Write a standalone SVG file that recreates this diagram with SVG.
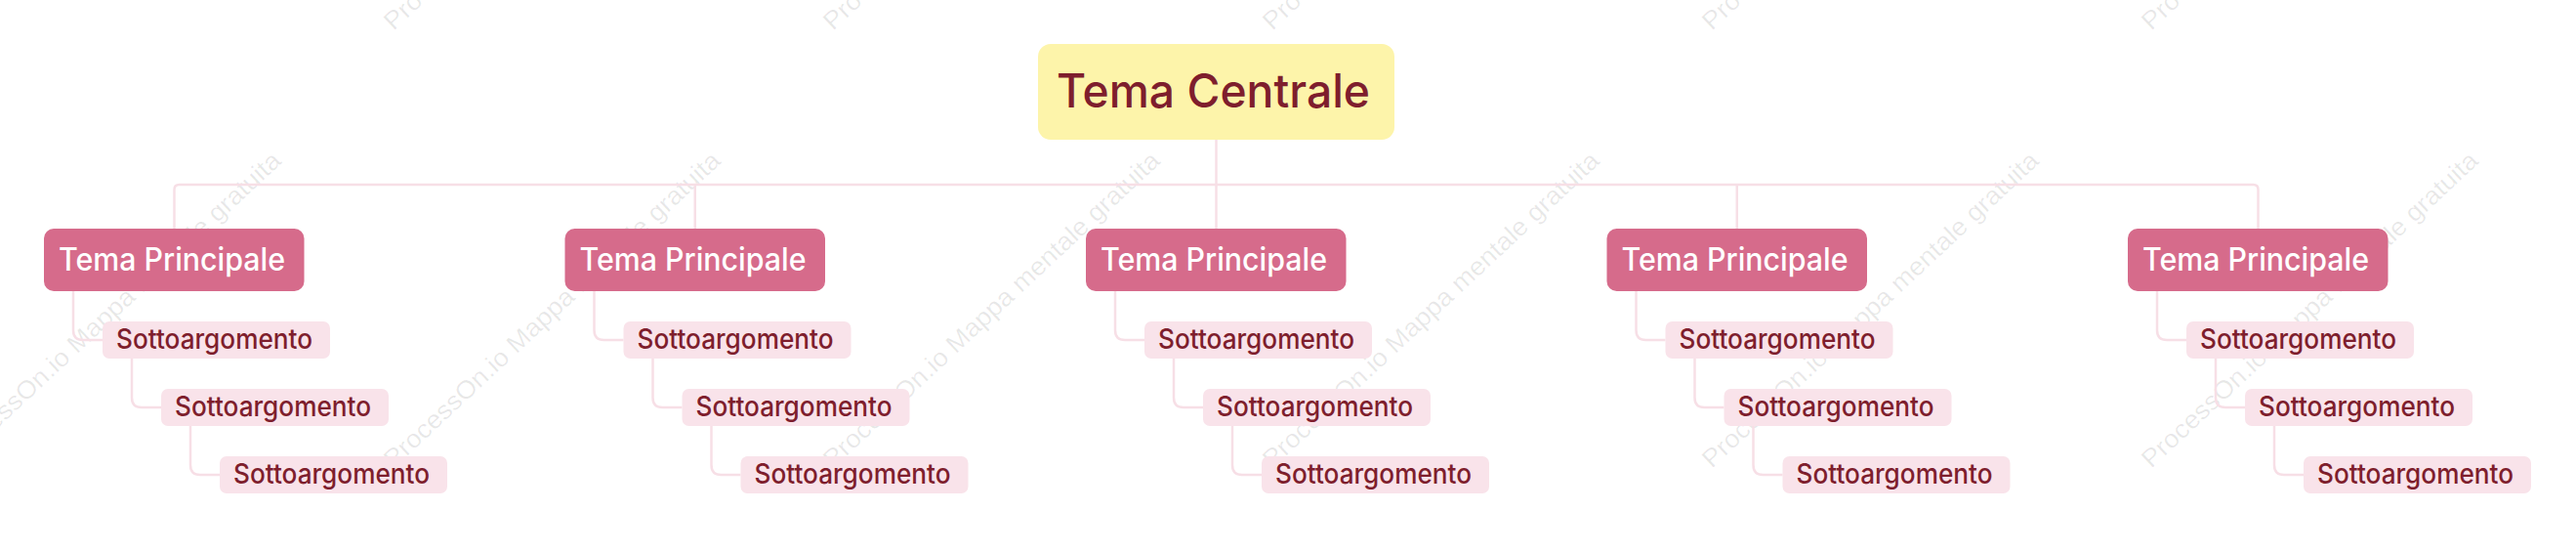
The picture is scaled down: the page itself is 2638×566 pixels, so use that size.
<svg xmlns="http://www.w3.org/2000/svg" width="2638" height="566" viewBox="0 0 2638 566">
<style>
.wm{font-family:"Liberation Sans",Arial,sans-serif;font-size:26px;fill:#000;fill-opacity:0.09}
.conn{fill:none;stroke:#f7dfe6;stroke-width:2.5}
.root rect{fill:#fdf4aa}
.root text{font-family:Inter,"Liberation Sans",sans-serif;font-weight:500;font-size:48px;fill:#7e1e2d}
.main rect{fill:#d66b8b}
.main text{font-family:Inter,"Liberation Sans",sans-serif;font-weight:500;font-size:32px;fill:#ffffff}
.sub rect{fill:#f9e3ea}
.sub text{font-family:Inter,"Liberation Sans",sans-serif;font-weight:500;font-size:28px;fill:#7e1e2d}
</style>
<rect width="2638" height="566" fill="#ffffff"/>
<g id="watermarks">
<text class="wm" transform="translate(-47,480) rotate(-43)" textLength="460" lengthAdjust="spacingAndGlyphs">ProcessOn.io Mappa mentale gratuita</text>
<text class="wm" transform="translate(403,480) rotate(-43)" textLength="460" lengthAdjust="spacingAndGlyphs">ProcessOn.io Mappa mentale gratuita</text>
<text class="wm" transform="translate(853,480) rotate(-43)" textLength="460" lengthAdjust="spacingAndGlyphs">ProcessOn.io Mappa mentale gratuita</text>
<text class="wm" transform="translate(1303,480) rotate(-43)" textLength="460" lengthAdjust="spacingAndGlyphs">ProcessOn.io Mappa mentale gratuita</text>
<text class="wm" transform="translate(1753,480) rotate(-43)" textLength="460" lengthAdjust="spacingAndGlyphs">ProcessOn.io Mappa mentale gratuita</text>
<text class="wm" transform="translate(2203,480) rotate(-43)" textLength="460" lengthAdjust="spacingAndGlyphs">ProcessOn.io Mappa mentale gratuita</text>
<text class="wm" transform="translate(403,32) rotate(-43)" textLength="460" lengthAdjust="spacingAndGlyphs">ProcessOn.io Mappa mentale gratuita</text>
<text class="wm" transform="translate(853,32) rotate(-43)" textLength="460" lengthAdjust="spacingAndGlyphs">ProcessOn.io Mappa mentale gratuita</text>
<text class="wm" transform="translate(1303,32) rotate(-43)" textLength="460" lengthAdjust="spacingAndGlyphs">ProcessOn.io Mappa mentale gratuita</text>
<text class="wm" transform="translate(1753,32) rotate(-43)" textLength="460" lengthAdjust="spacingAndGlyphs">ProcessOn.io Mappa mentale gratuita</text>
<text class="wm" transform="translate(2203,32) rotate(-43)" textLength="460" lengthAdjust="spacingAndGlyphs">ProcessOn.io Mappa mentale gratuita</text>
</g>
<g id="connectors">
<path class="conn" d="M1245.5 143 V234"/>
<path class="conn" d="M178.5 234 V194 Q178.5 189 183.5 189 H2307.5 Q2312.5 189 2312.5 194 V234"/>
<path class="conn" d="M711.75 189 V234"/>
<path class="conn" d="M1778.75 189 V234"/>
<g id="c1">
<path class="conn" d="M75 298 V338 Q75 348 85 348 H105"/>
<path class="conn" d="M135 367 V407 Q135 417 145 417 H165"/>
<path class="conn" d="M195 436 V476 Q195 486 205 486 H225"/>
</g>
<g id="c2" transform="translate(533.5,0)">
<path class="conn" d="M75 298 V338 Q75 348 85 348 H105"/>
<path class="conn" d="M135 367 V407 Q135 417 145 417 H165"/>
<path class="conn" d="M195 436 V476 Q195 486 205 486 H225"/>
</g>
<g id="c3" transform="translate(1067,0)">
<path class="conn" d="M75 298 V338 Q75 348 85 348 H105"/>
<path class="conn" d="M135 367 V407 Q135 417 145 417 H165"/>
<path class="conn" d="M195 436 V476 Q195 486 205 486 H225"/>
</g>
<g id="c4" transform="translate(1600.5,0)">
<path class="conn" d="M75 298 V338 Q75 348 85 348 H105"/>
<path class="conn" d="M135 367 V407 Q135 417 145 417 H165"/>
<path class="conn" d="M195 436 V476 Q195 486 205 486 H225"/>
</g>
<g id="c5" transform="translate(2134,0)">
<path class="conn" d="M75 298 V338 Q75 348 85 348 H105"/>
<path class="conn" d="M135 367 V407 Q135 417 145 417 H165"/>
<path class="conn" d="M195 436 V476 Q195 486 205 486 H225"/>
</g>
</g>
<g id="root" class="root">
<rect x="1063" y="45" width="365" height="98" rx="13"/>
<text x="1082" y="110" textLength="321" lengthAdjust="spacingAndGlyphs">Tema Centrale</text>
</g>
<g id="main1" class="main" transform="translate(45,0)"><rect x="0" y="234" width="266.5" height="64" rx="10"/><text x="15" y="277" textLength="232" lengthAdjust="spacingAndGlyphs">Tema Principale</text></g>
<g id="sub1a" class="sub" transform="translate(45,0)"><rect x="60" y="329" width="233" height="38" rx="7"/><text x="74" y="356.7" textLength="201" lengthAdjust="spacingAndGlyphs">Sottoargomento</text></g>
<g id="sub1b" class="sub" transform="translate(45,0)"><rect x="120" y="398" width="233" height="38" rx="7"/><text x="134" y="425.7" textLength="201" lengthAdjust="spacingAndGlyphs">Sottoargomento</text></g>
<g id="sub1c" class="sub" transform="translate(45,0)"><rect x="180" y="467" width="233" height="38" rx="7"/><text x="194" y="494.5" textLength="201" lengthAdjust="spacingAndGlyphs">Sottoargomento</text></g>
<g id="main2" class="main" transform="translate(578.5,0)"><rect x="0" y="234" width="266.5" height="64" rx="10"/><text x="15" y="277" textLength="232" lengthAdjust="spacingAndGlyphs">Tema Principale</text></g>
<g id="sub2a" class="sub" transform="translate(578.5,0)"><rect x="60" y="329" width="233" height="38" rx="7"/><text x="74" y="356.7" textLength="201" lengthAdjust="spacingAndGlyphs">Sottoargomento</text></g>
<g id="sub2b" class="sub" transform="translate(578.5,0)"><rect x="120" y="398" width="233" height="38" rx="7"/><text x="134" y="425.7" textLength="201" lengthAdjust="spacingAndGlyphs">Sottoargomento</text></g>
<g id="sub2c" class="sub" transform="translate(578.5,0)"><rect x="180" y="467" width="233" height="38" rx="7"/><text x="194" y="494.5" textLength="201" lengthAdjust="spacingAndGlyphs">Sottoargomento</text></g>
<g id="main3" class="main" transform="translate(1112,0)"><rect x="0" y="234" width="266.5" height="64" rx="10"/><text x="15" y="277" textLength="232" lengthAdjust="spacingAndGlyphs">Tema Principale</text></g>
<g id="sub3a" class="sub" transform="translate(1112,0)"><rect x="60" y="329" width="233" height="38" rx="7"/><text x="74" y="356.7" textLength="201" lengthAdjust="spacingAndGlyphs">Sottoargomento</text></g>
<g id="sub3b" class="sub" transform="translate(1112,0)"><rect x="120" y="398" width="233" height="38" rx="7"/><text x="134" y="425.7" textLength="201" lengthAdjust="spacingAndGlyphs">Sottoargomento</text></g>
<g id="sub3c" class="sub" transform="translate(1112,0)"><rect x="180" y="467" width="233" height="38" rx="7"/><text x="194" y="494.5" textLength="201" lengthAdjust="spacingAndGlyphs">Sottoargomento</text></g>
<g id="main4" class="main" transform="translate(1645.5,0)"><rect x="0" y="234" width="266.5" height="64" rx="10"/><text x="15" y="277" textLength="232" lengthAdjust="spacingAndGlyphs">Tema Principale</text></g>
<g id="sub4a" class="sub" transform="translate(1645.5,0)"><rect x="60" y="329" width="233" height="38" rx="7"/><text x="74" y="356.7" textLength="201" lengthAdjust="spacingAndGlyphs">Sottoargomento</text></g>
<g id="sub4b" class="sub" transform="translate(1645.5,0)"><rect x="120" y="398" width="233" height="38" rx="7"/><text x="134" y="425.7" textLength="201" lengthAdjust="spacingAndGlyphs">Sottoargomento</text></g>
<g id="sub4c" class="sub" transform="translate(1645.5,0)"><rect x="180" y="467" width="233" height="38" rx="7"/><text x="194" y="494.5" textLength="201" lengthAdjust="spacingAndGlyphs">Sottoargomento</text></g>
<g id="main5" class="main" transform="translate(2179,0)"><rect x="0" y="234" width="266.5" height="64" rx="10"/><text x="15" y="277" textLength="232" lengthAdjust="spacingAndGlyphs">Tema Principale</text></g>
<g id="sub5a" class="sub" transform="translate(2179,0)"><rect x="60" y="329" width="233" height="38" rx="7"/><text x="74" y="356.7" textLength="201" lengthAdjust="spacingAndGlyphs">Sottoargomento</text></g>
<g id="sub5b" class="sub" transform="translate(2179,0)"><rect x="120" y="398" width="233" height="38" rx="7"/><text x="134" y="425.7" textLength="201" lengthAdjust="spacingAndGlyphs">Sottoargomento</text></g>
<g id="sub5c" class="sub" transform="translate(2179,0)"><rect x="180" y="467" width="233" height="38" rx="7"/><text x="194" y="494.5" textLength="201" lengthAdjust="spacingAndGlyphs">Sottoargomento</text></g>
</svg>
